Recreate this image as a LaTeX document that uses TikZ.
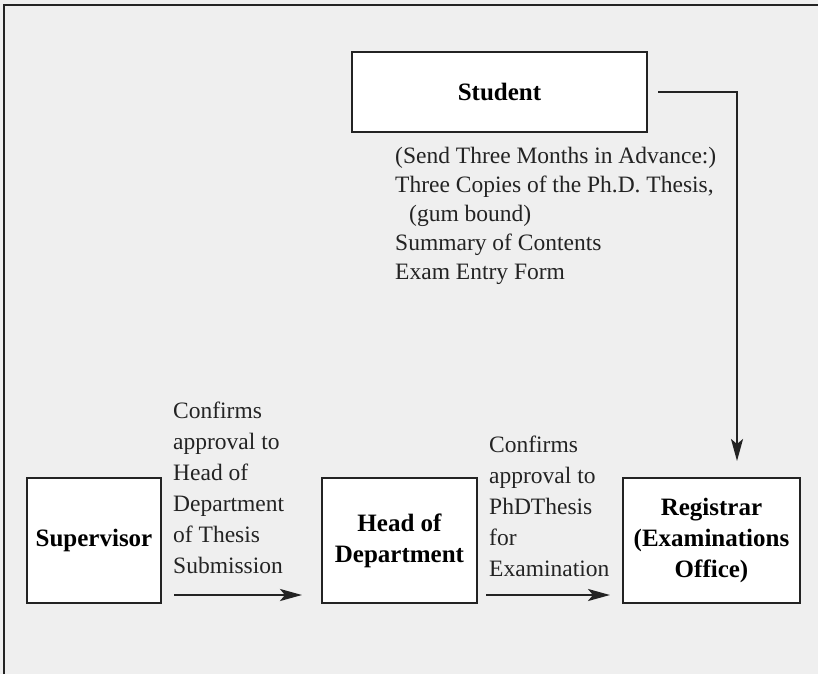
\documentclass[tikz,border=0pt]{standalone}
\usepackage{fontspec}
\setmainfont{Liberation Serif}
\usetikzlibrary{arrows.meta}

\definecolor{paper}{RGB}{239,239,239}
\definecolor{ink}{RGB}{35,35,35}

\begin{document}
\begin{tikzpicture}[x=1pt, y=-1pt,
    box/.style={draw=ink, line width=2pt, fill=white, align=center, inner sep=0pt,
        minimum height=125pt, font=\fontsize{25}{31}\selectfont\bfseries},
    note/.style={anchor=north west, align=left, inner sep=0pt,
        font=\fontsize{23.5}{31}\selectfont, text=ink},
    flow/.style={draw=ink, line width=2.5pt, -{Stealth[length=22pt, width=12pt, inset=5pt]}}]
    \useasboundingbox (0,0) rectangle (818,674);

    % Grey page and the open frame round it
    \fill[paper] (0,0) rectangle (818,674);
    \draw[ink, line width=2.5pt] (4,674) -- (4,5) -- (818,5);

    % Student at the top, with what is sent
    \node[box, minimum width=295pt, minimum height=80pt] (student) at (499.5,92) {Student};
    \node[note, font=\fontsize{23.5}{29}\selectfont] (sendlist) at (395,147)
        {(Send Three Months in Advance:)\\
         Three Copies of the Ph.D. Thesis,\\
         \hspace*{14pt}(gum bound)\\
         Summary of Contents\\
         Exam Entry Form};

    % The three offices along the bottom
    \node[box, minimum width=134pt] (supervisor) at (94,540.5) {Supervisor};
    \node[box, minimum width=155pt] (hod) at (399.5,540.5) {Head of\\Department};
    \node[box, minimum width=177pt] (registrar) at (711.5,540.5) {Registrar\\(Examinations\\Office)};

    % Labels over the arrows
    \node[note] (tohod) at (173,402)
        {Confirms\\approval to\\Head of\\Department\\of Thesis\\Submission};
    \node[note] (toreg) at (489,436)
        {Confirms\\approval to\\PhDThesis\\for\\Examination};

    % Arrows
    \draw[flow, line width=2pt] ([xshift=10pt]student.east)
        -| ([xshift=25.5pt, yshift=16pt]registrar.north);
    \draw[flow] ([xshift=12pt, yshift=9pt]supervisor.south east)
        -- ([xshift=-19pt, yshift=9pt]hod.south west);
    \draw[flow] ([xshift=8pt, yshift=9pt]hod.south east)
        -- ([xshift=-12pt, yshift=9pt]registrar.south west);
\end{tikzpicture}
\end{document}
